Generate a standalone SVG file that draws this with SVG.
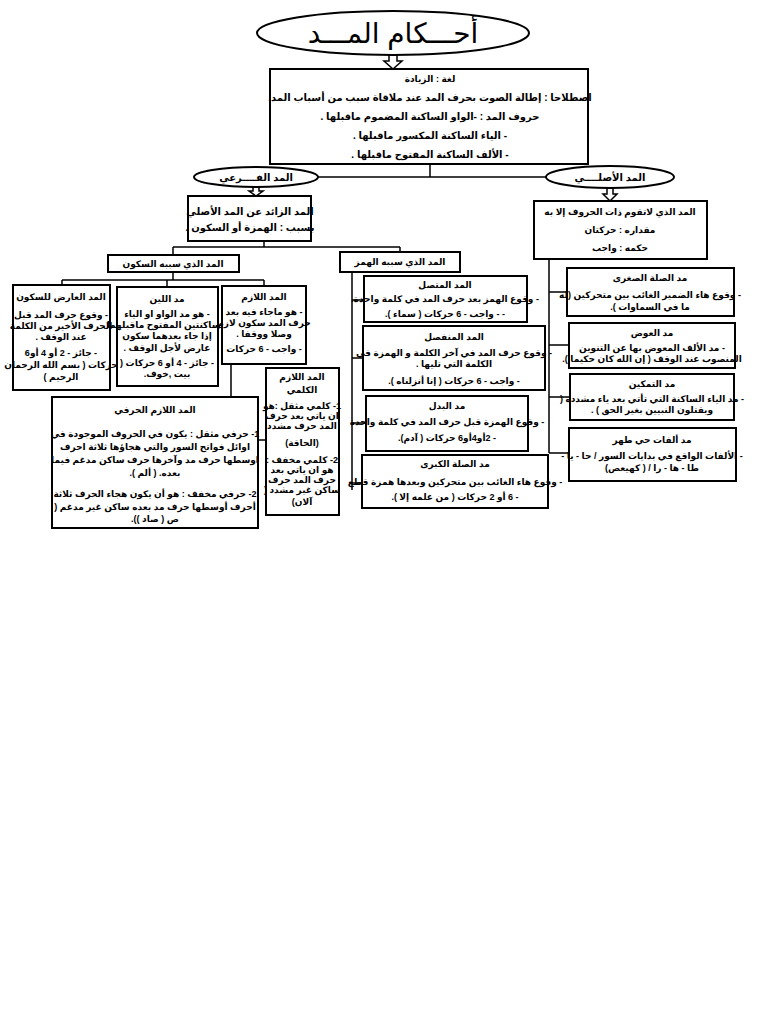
<svg xmlns="http://www.w3.org/2000/svg" width="768" height="1024" viewBox="0 0 768 1024">
<style>
text{font-family:"Liberation Sans","DejaVu Sans",sans-serif;font-weight:bold;font-size:9px;fill:#000;text-anchor:middle;direction:rtl}
.b{fill:#fff;stroke:#000;stroke-width:2}
.l{fill:none;stroke:#000;stroke-width:1.5}
.h{font-size:10px}
.t{font-size:28px;font-weight:normal}
.ar{fill:#fff;stroke:#000;stroke-width:1.5}
</style>
<rect width="768" height="1024" fill="#fff"/>
<g id="connectors">
<path class="l" d="M430 164V177M318 177H546"/>
<path class="ar" d="M389 55V61H384L393 69L402 61H397V55Z"/>
<path class="ar" d="M253 187V191H249L256 196L263 191H259V187Z"/>
<path class="ar" d="M607 188V194H603L610 201L617 194H613V188Z"/>
<path class="l" d="M264 241V247M173 247H400M173 247V255M400 247V252"/>
<path class="l" d="M173 272V280M62 280H264M62 280V285M167 280V287M264 280V286"/>
<path class="l" d="M231 364V397M258 440H266"/>
<path class="l" d="M352 272V490M352 300H364M352 358H363M352 423H366M352 483H362"/>
<path class="l" d="M549 259V453M549 292H567M549 345H569M549 397H570M549 453H569"/>
</g>
<g id="title"><ellipse class="b" cx="393" cy="33" rx="136" ry="22" stroke-width="1.5"/><text class="t" x="393" y="43">أحـــكام المـــد</text></g>
<g id="def"><rect class="b" x="270" y="69" width="318" height="95"/>
<text x="430" y="82">لغة : الزيادة</text>
<text class="h" x="430" y="101">اصطلاحا : إطالة الصوت بحرف المد عند ملاقاة سبب من أسباب المد.</text>
<text class="h" x="430" y="120">حروف المد : -الواو الساكنة المضموم ماقبلها .</text>
<text class="h" x="430" y="139">- الياء الساكنة المكسور ماقبلها .</text>
<text class="h" x="430" y="158">- الألف الساكنة المفتوح ماقبلها .</text></g>
<g id="far"><ellipse class="b" cx="256" cy="177" rx="62" ry="10" stroke-width="1.5"/><text class="h" x="256" y="181">المد الفــــرعي</text></g>
<g id="asl"><ellipse class="b" cx="610" cy="177" rx="64" ry="11" stroke-width="1.5"/><text class="h" x="610" y="181">المد الأصلــــي</text></g>
<g id="zaid"><rect class="b" x="188" y="196" width="123" height="45"/><text class="h" x="250" y="215">المد الزائد عن المد الأصلي</text><text class="h" x="250" y="231">بسبب : الهمزة  أو السكون .</text></g>
<g id="asli"><rect class="b" x="534" y="201" width="173" height="58"/><text x="620" y="215">المد الذي لاتقوم ذات الحروف إلا به</text><text x="620" y="233">مقداره : حركتان</text><text x="620" y="251">حكمه : واجب</text></g>
<g id="sukun"><rect class="b" x="108" y="255" width="131" height="17"/><text x="173" y="267">المد الذي سببه السكون</text></g>
<g id="hamz"><rect class="b" x="340" y="252" width="120" height="20"/><text x="400" y="265">المد الذي سببه الهمز</text></g>
<g id="arid"><rect class="b" x="13" y="285" width="97" height="105"/><text x="61" y="300" font-size="10">المد العارض للسكون</text><text x="61" y="318">- وقوع حرف المد قبل</text><text x="61" y="329">الحرف الأخير من الكلمة</text><text x="61" y="340">عند الوقف .</text><text x="61" y="356">- جائز - 2 أو 4 أو6</text><text x="61" y="368">حركات ( بسم الله الرحمان</text><text x="61" y="380">الرحيم )</text></g>
<g id="leen"><rect class="b" x="117" y="287" width="101" height="99"/><text x="167" y="302" font-size="10">مد اللين</text><text x="167" y="317">- هو مد الواو او الياء</text><text x="167" y="328">الساكنتين المفتوح ماقبلهما</text><text x="167" y="339">إذا جاء بعدهما سكون</text><text x="167" y="351">عارض لأجل الوقف .</text><text x="167" y="366">- جائز - 4 أو 6 حركات (</text><text x="167" y="377">بيت ,خوف.</text></g>
<g id="lazim"><rect class="b" x="222" y="286" width="84" height="78"/><text x="264" y="300" font-size="10">المد اللازم</text><text x="264" y="315">- هو ماجاء فيه بعد</text><text x="264" y="326">حرف المد سكون لازم</text><text x="264" y="337">وصلا ووقفا .</text><text x="264" y="352">- واجب - 6 حركات</text></g>
<g id="kalimi"><rect class="b" x="266" y="368" width="73" height="147"/><text x="302" y="380" font-size="10">المد اللازم</text><text x="302" y="393" font-size="10">الكلمي</text><text x="302" y="409">1- كلمي مثقل :هو</text><text x="302" y="419">ان ياتي بعد حرف</text><text x="302" y="429">المد حرف مشدد</text><text x="302" y="446">(الحاقة)</text><text x="302" y="463">2- كلمي مخفف :</text><text x="302" y="473">هو ان ياتي بعد</text><text x="302" y="483">حرف المد حرف</text><text x="302" y="493">ساكن غير مشدد (</text><text x="302" y="505">آلان)</text></g>
<g id="harfi"><rect class="b" x="52" y="397" width="206" height="131"/><text x="155" y="413" font-size="10">المد اللازم الحرفي</text><text x="155" y="437">1- حرفي مثقل : يكون في الحروف الموجودة في</text><text x="155" y="450">اوائل فواتح السور والتي هجاؤها ثلاثة احرف</text><text x="155" y="463">اوسطها حرف مد وآخرها حرف ساكن مدغم فيما</text><text x="155" y="476">بعده. ( ألم ).</text><text x="155" y="497">2- حرفي مخفف : هو أن يكون هجاء الحرف ثلاثة</text><text x="155" y="510">أحرف أوسطها حرف مد بعده ساكن غير مدغم (</text><text x="155" y="522">ص ( صاد )).</text></g>
<g id="muttasil"><rect class="b" x="364" y="276" width="163" height="46"/><text x="445" y="288" font-size="10">المد المتصل</text><text x="445" y="302">- وقوع الهمز بعد حرف المد في كلمة واحدة.</text><text x="445" y="317">- - واجب - 6 حركات ( سماء ).</text></g>
<g id="munfasil"><rect class="b" x="363" y="326" width="182" height="64"/><text x="454" y="340" font-size="10">المد المنفصل</text><text x="454" y="356">- وقوع حرف المد في آخر الكلمة و الهمزة في</text><text x="454" y="367">الكلمة التي تليها .</text><text x="454" y="384">- واجب - 6 حركات ( إنا أنزلناه ).</text></g>
<g id="badal"><rect class="b" x="366" y="396" width="162" height="55"/><text x="447" y="409" font-size="10">مد البدل</text><text x="447" y="425">- وقوع الهمزة قبل حرف المد في كلمة واحدة</text><text x="447" y="441">- 2أو4أو6 حركات ( آدم).</text></g>
<g id="kubra"><rect class="b" x="362" y="455" width="186" height="53"/><text x="455" y="467" font-size="10">مد الصلة الكبرى</text><text x="455" y="485">- وقوع هاء الغائب بين متحركين وبعدها همزة قطع</text><text x="455" y="500">- 6 أو 2 حركات ( من علمه إلا ).</text></g>
<g id="sughra"><rect class="b" x="567" y="268" width="167" height="48"/><text x="650" y="281" font-size="10">مد الصلة الصغرى</text><text x="650" y="298">- وقوع هاء الضمير الغائب بين متحركين (له</text><text x="650" y="310">ما في السماوات ).</text></g>
<g id="iwad"><rect class="b" x="569" y="323" width="166" height="45"/><text x="652" y="336" font-size="10">مد العوض</text><text x="652" y="351">- مد الألف المعوض بها عن التنوين</text><text x="652" y="362">المنصوب عند الوقف ( إن الله كان حكيما ).</text></g>
<g id="tamkeen"><rect class="b" x="570" y="374" width="164" height="46"/><text x="652" y="387" font-size="10">مد التمكين</text><text x="652" y="402">- مد الياء الساكنة التي تأتي بعد ياء مشددة (</text><text x="652" y="413">ويقتلون النبيين بغير الحق ) .</text></g>
<g id="alifat"><rect class="b" x="569" y="428" width="167" height="53"/><text x="652" y="443" font-size="10">مد ألفات حي طهر</text><text x="652" y="459">- الألفات الواقع في بدايات السور / حا - يا -</text><text x="652" y="471">طا - ها - را / ( كهيعص)</text></g>
</svg>
